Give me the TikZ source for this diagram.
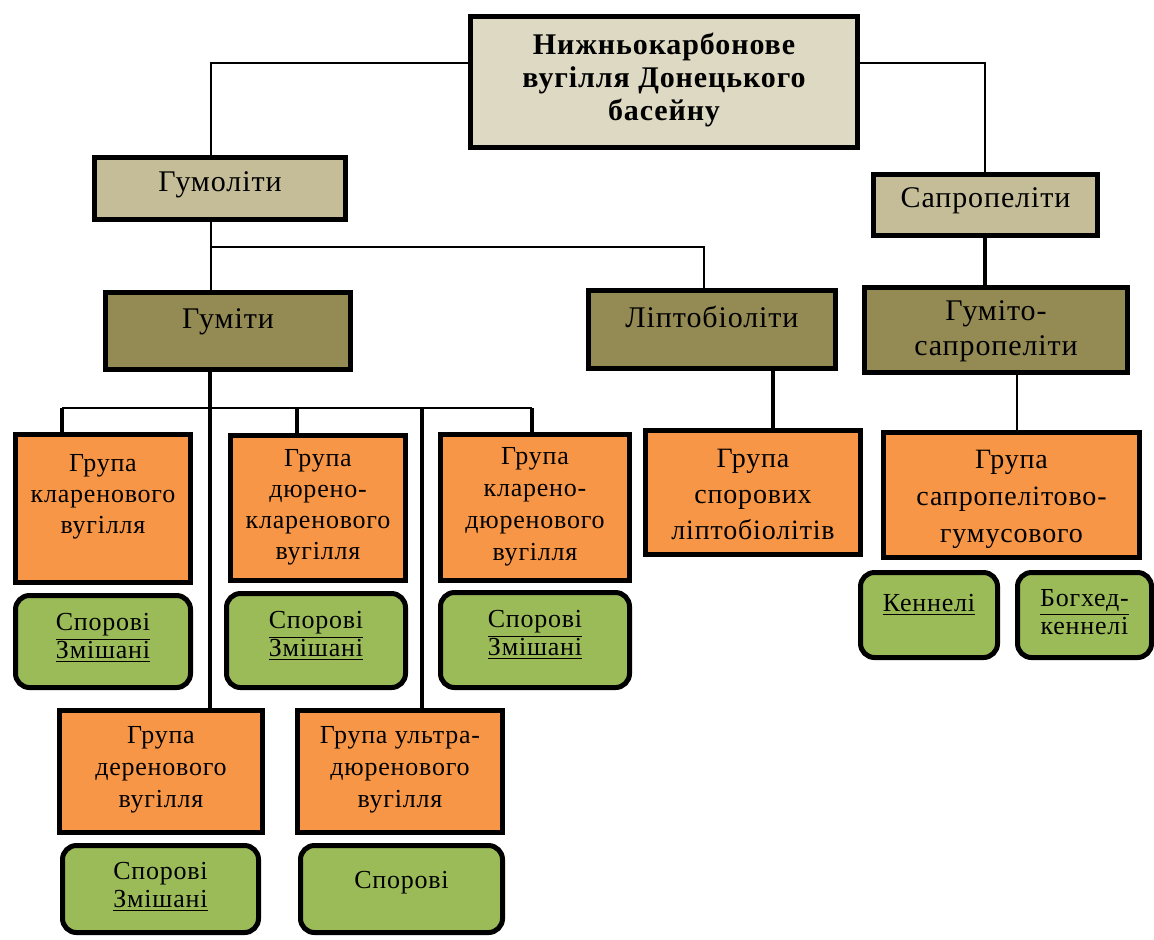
\documentclass[tikz,border=0pt]{standalone}
\usepackage{fontspec}
\setmainfont{Liberation Serif}[LetterSpace=3]
\definecolor{cTop}{HTML}{DDD9C3}
\definecolor{cOne}{HTML}{C4BD97}
\definecolor{cTwo}{HTML}{948A54}
\definecolor{cOr}{HTML}{F79646}
\definecolor{cGr}{HTML}{9BBB59}
% \cell[baselineskip]{width pt}{height pt}{top offset pt}{text}
\newcommand\cell[5][15.5pt]{\parbox[c][#3pt][t]{#2pt}{\centering\setlength\baselineskip{#1}\vspace*{#4pt}#5\par}}
\begin{document}
\begin{tikzpicture}[x=0.5pt,y=-0.5pt,
  bx/.style={draw=black,line width=2.5pt,inner sep=0pt,rectangle,font=\fontsize{13}{15.5}\selectfont},
  lv0/.style={bx,fill=cTop,font=\fontsize{15}{16.5}\selectfont\bfseries},
  lv1/.style={bx,fill=cOne,font=\fontsize{15}{17}\selectfont},
  lv2/.style={bx,fill=cTwo,font=\fontsize{15}{17}\selectfont},
  grp/.style={bx,fill=cOr},
  sub/.style={bx,fill=cGr,rounded corners=7pt},
  link/.style={line width=1pt},
  tlink/.style={line width=1.6pt}]
\useasboundingbox (0,0) rectangle (1154,939);

% level 0
\node[lv0] (top) at (664,82) {\cell[16.5pt]{193.5}{65.5}{8.5}{Нижньокарбонове\\вугілля Донецького\\басейну}};
% level 1
\node[lv1] (gumol) at (220,188.5) {\cell{125.5}{31}{7}{Гумоліти}};
\node[lv1] (sapr) at (985.5,205) {\cell{112}{30.5}{6.5}{Сапропеліти}};
% level 2
\node[lv2] (gumity) at (228,331) {\cell{122.5}{38.5}{8}{Гуміти}};
\node[lv2] (lipto) at (712,329.5) {\cell{123.5}{39}{8}{Ліптобіоліти}};
\node[lv2] (gumsap) at (996,330) {\cell[17.5pt]{131.5}{42.5}{6.5}{Гуміто-\\сапропеліти}};
% groups
\node[grp] (klar) at (103,508.5) {\cell{87.5}{74}{10}{Група\\кларенового\\вугілля}};
\node[grp] (durklar) at (318,508) {\cell{87.5}{72.5}{7}{Група\\дюрено-\\кларенового\\вугілля}};
\node[grp] (klardur) at (535,507.5) {\cell[16pt]{94.5}{73}{6.5}{Група\\кларено-\\дюренового\\вугілля}};
\node[grp,font=\fontsize{14}{18}\selectfont] (spor) at (753,492.5) {\cell[18pt]{107.5}{62}{9.5}{Група\\спорових\\ліптобіолітів}};
\node[grp,font=\fontsize{14}{18}\selectfont] (sapgum) at (1011.5,495) {\cell[18.5pt]{128}{62.5}{9}{Група\\сапропелітово-\\гумусового}};
\node[grp] (deren) at (161,771.5) {\cell[16pt]{101.5}{61}{8}{Група\\деренового\\вугілля}};
\node[grp] (ultra) at (400,771.5) {\cell[16pt]{102.5}{61}{8}{Група ультра-\\дюренового\\вугілля}};
% sub boxes
\node[sub] (g1) at (103,641.5) {\cell[14pt]{87.5}{46}{9}{\underline{Спорові}\\\underline{Змішані}}};
\node[sub] (g2) at (316,640.5) {\cell[14pt]{89.5}{47}{9}{\underline{Спорові}\\\underline{Змішані}}};
\node[sub] (g3) at (535,640) {\cell[14pt]{94.5}{47.5}{9}{\underline{Спорові}\\\underline{Змішані}}};
\node[sub] (g4) at (160.5,889) {\cell[14pt]{98}{43.5}{8.5}{Спорові\\\underline{Змішані}}};
\node[sub] (g5) at (401.5,889) {\cell[14pt]{101}{43.5}{13}{Спорові}};
\node[sub] (kenn) at (929,615) {\cell[14pt]{68.5}{42.5}{11}{\underline{Кеннелі}}};
\node[sub] (bogh) at (1084.5,615) {\cell[14pt]{67}{42.5}{8.5}{\underline{Богхед-}\\кеннелі}};

% junction coordinates
\coordinate (jL) at (211,63);
\coordinate (jR) at (985,63);
\coordinate (jG) at (211,247);
\coordinate (jLip) at (704,247);
\coordinate (jH) at (210,408);
\coordinate (h1) at (62,408);
\coordinate (h3) at (297,408);
\coordinate (h4) at (422,408);
\coordinate (h5) at (532,408);
\coordinate (jS) at (773,400);
\coordinate (jK) at (1017,400);

% connectors
\draw[link] (top.west |- jL) -| (gumol.north -| jL);
\draw[link] (top.east |- jR) -| (sapr.north -| jR);
\draw[link] (gumol.south -| jG) -- (gumity.north -| jG);
\draw[link] (jG) -| (lipto.north -| jLip);
\draw[tlink] (sapr.south -| jR) -- (gumsap.north -| jR);
\draw[link] (h1) -- (h5);
\draw[tlink] (gumity.south -| jH) -- (deren.north -| jH);
\draw[tlink] (h1) -- (klar.north -| h1);
\draw[tlink] (h3) -- (durklar.north -| h3);
\draw[tlink] (h5) -- (klardur.north -| h5);
\draw[tlink] (h4) -- (ultra.north -| h4);
\draw[tlink] (lipto.south -| jS) -- (spor.north -| jS);
\draw[link] (gumsap.south -| jK) -- (sapgum.north -| jK);
\end{tikzpicture}
\end{document}
